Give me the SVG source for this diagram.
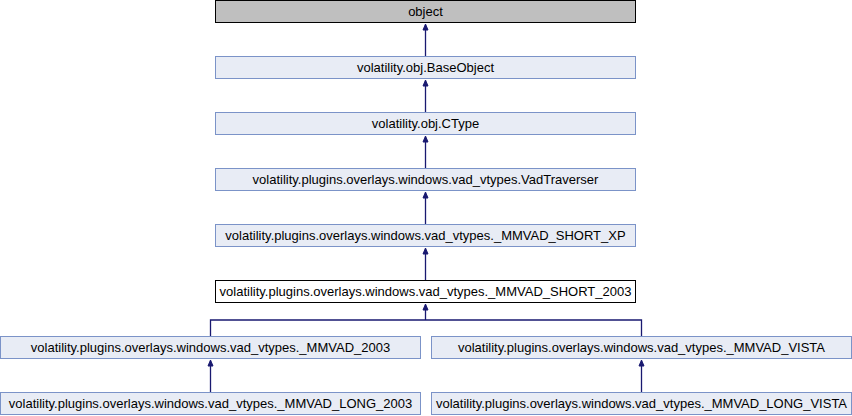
<svg xmlns="http://www.w3.org/2000/svg" width="852" height="416" viewBox="0 0 852 416">
<style>
  .box { fill: #e8ecf5; stroke: #7b93c8; stroke-width: 1; }
  .root { fill: #bfbfbf; stroke: #000000; stroke-width: 1; }
  .cur { fill: #ffffff; stroke: #000000; stroke-width: 1; }
  .lbl { font-family: "Liberation Sans", Arial, Helvetica, sans-serif; font-size: 13px; fill: #000000; text-anchor: middle; }
  .edge { fill: none; stroke: #191970; stroke-width: 1.3; }
  .head { fill: #191970; stroke: #191970; stroke-width: 1; }
</style>
<rect width="852" height="416" fill="#ffffff"/>
<g id="connectors">
  <path class="edge" d="M425.5,56.5 V28"/>
  <polygon class="head" points="425.5,24 423,30 428,30"/>
  <path class="edge" d="M425.5,112.5 V84"/>
  <polygon class="head" points="425.5,80 423,86 428,86"/>
  <path class="edge" d="M425.5,168.5 V140"/>
  <polygon class="head" points="425.5,136 423,142 428,142"/>
  <path class="edge" d="M425.5,224.5 V196"/>
  <polygon class="head" points="425.5,192 423,198 428,198"/>
  <path class="edge" d="M425.5,280.5 V252"/>
  <polygon class="head" points="425.5,248 423,254 428,254"/>
  <path class="edge" d="M210.5,336.5 V320 H641.5 V336.5 M425.5,320 V308"/>
  <polygon class="head" points="425.5,304 423,310 428,310"/>
  <path class="edge" d="M210.5,392.5 V364"/>
  <polygon class="head" points="210.5,360 208,366 213,366"/>
  <path class="edge" d="M641.5,392.5 V364"/>
  <polygon class="head" points="641.5,360 639,366 644,366"/>
</g>
<g id="node-object">
  <rect class="root" x="215.5" y="0.5" width="420" height="22"/>
  <text class="lbl" x="425.5" y="15.5">object</text>
</g>
<g id="node-baseobject">
  <rect class="box" x="215.5" y="56.5" width="420" height="22"/>
  <text class="lbl" x="425.5" y="71.5">volatility.obj.BaseObject</text>
</g>
<g id="node-ctype">
  <rect class="box" x="215.5" y="112.5" width="420" height="22"/>
  <text class="lbl" x="425.5" y="127.5">volatility.obj.CType</text>
</g>
<g id="node-vadtraverser">
  <rect class="box" x="215.5" y="168.5" width="420" height="22"/>
  <text class="lbl" x="425.5" y="183.5">volatility.plugins.overlays.windows.vad_vtypes.VadTraverser</text>
</g>
<g id="node-short-xp">
  <rect class="box" x="215.5" y="224.5" width="420" height="22"/>
  <text class="lbl" x="425.5" y="239.5">volatility.plugins.overlays.windows.vad_vtypes._MMVAD_SHORT_XP</text>
</g>
<g id="node-short-2003">
  <rect class="cur" x="215.5" y="280.5" width="420" height="22"/>
  <text class="lbl" x="425.5" y="295.5">volatility.plugins.overlays.windows.vad_vtypes._MMVAD_SHORT_2003</text>
</g>
<g id="node-mmvad-2003">
  <rect class="box" x="0.5" y="336.5" width="420" height="22"/>
  <text class="lbl" x="210.5" y="351.5">volatility.plugins.overlays.windows.vad_vtypes._MMVAD_2003</text>
</g>
<g id="node-mmvad-vista">
  <rect class="box" x="431.5" y="336.5" width="420" height="22"/>
  <text class="lbl" x="641.5" y="351.5">volatility.plugins.overlays.windows.vad_vtypes._MMVAD_VISTA</text>
</g>
<g id="node-long-2003">
  <rect class="box" x="0.5" y="392.5" width="420" height="22"/>
  <text class="lbl" x="210.5" y="407.5">volatility.plugins.overlays.windows.vad_vtypes._MMVAD_LONG_2003</text>
</g>
<g id="node-long-vista">
  <rect class="box" x="431.5" y="392.5" width="420" height="22"/>
  <text class="lbl" x="641.5" y="407.5">volatility.plugins.overlays.windows.vad_vtypes._MMVAD_LONG_VISTA</text>
</g>
</svg>
